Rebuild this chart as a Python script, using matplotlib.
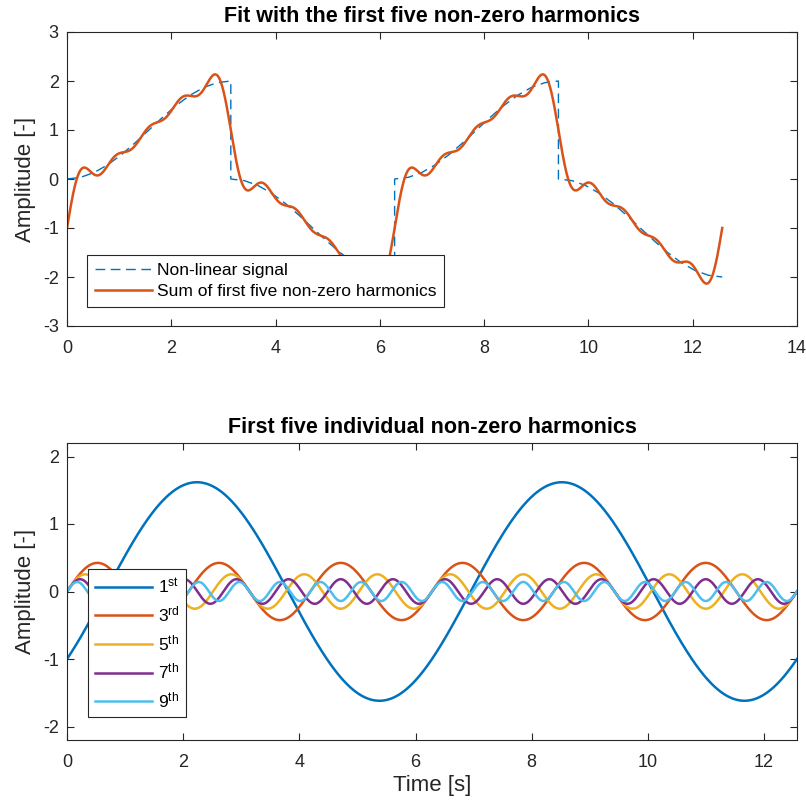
import numpy as np
import matplotlib
matplotlib.use("Agg")
import matplotlib.pyplot as plt

plt.rcParams['font.family'] = ['Liberation Sans', 'DejaVu Sans']
plt.rcParams['mathtext.fontset'] = 'custom'
plt.rcParams['mathtext.rm'] = 'Liberation Sans'
plt.rcParams['mathtext.it'] = 'Liberation Sans'
plt.rcParams['axes.unicode_minus'] = False

# harmonic content (cos / sin parts of each order)
orders = [1, 3, 5, 7, 9]
cos_amp = [-1.0, 0.0, 0.0, 0.0, 0.0]
sin_amp = [1.273, 0.424, 0.255, 0.182, 0.141]
harm_labels = [r'1$^{\rm st}$', r'3$^{\rm rd}$', r'5$^{\rm th}$',
               r'7$^{\rm th}$', r'9$^{\rm th}$']
harm_colors = ['#0072BD', '#D95319', '#EDB120', '#7E2F8E', '#4DBEEE']

# one rising half period of the non-linear signal
half_x = [0.0, 0.262, 0.524, 0.785, 1.047, 1.309, 1.571, 1.833, 2.094,
          2.356, 2.618, 2.880, 3.1416]
half_y = [0.0, 0.034, 0.134, 0.293, 0.5, 0.741, 1.0, 1.259, 1.5,
          1.707, 1.866, 1.966, 2.0]

t_end = 4 * np.pi
t = np.linspace(0, t_end, 2000)

# build the signal from the half period: up, down, up, down
hx = np.array(half_x)
hy = np.array(half_y)
sig_x = np.concatenate([hx, hx + np.pi, hx + 2 * np.pi, hx + 3 * np.pi])
sig_y = np.concatenate([hy, -hy, hy, -hy])

harmonics = []
for n, a, b in zip(orders, cos_amp, sin_amp):
    harmonics.append(a * np.cos(n * t) + b * np.sin(n * t))
total = np.sum(harmonics, axis=0)

fig = plt.figure(figsize=(8.06, 8.08), dpi=100)
W, H = 806, 808
ax1 = fig.add_axes([67 / W, 1 - 326 / H, 730 / W, 294 / H])
ax2 = fig.add_axes([67 / W, 1 - 740 / H, 730 / W, 297 / H])

edge = '#262626'
for ax in (ax1, ax2):
    ax.tick_params(direction='in', top=True, right=True, labelsize=13,
                   colors=edge, length=5, width=0.8)
    ax.tick_params(axis='x', pad=10)
    ax.tick_params(axis='y', pad=6)
    for s in ax.spines.values():
        s.set_color(edge)
        s.set_linewidth(0.8)

# top panel
ax1.plot(sig_x, sig_y, color='#0072BD', lw=1.0, dashes=(7, 4),
         label='Non-linear signal')
ax1.plot(t, total, color='#D95319', lw=1.8,
         label='Sum of first five non-zero harmonics')
ax1.set_xlim(0, 14)
ax1.set_ylim(-3, 3)
ax1.set_xticks(np.arange(0, 15, 2))
ax1.set_yticks(np.arange(-3, 4, 1))
ax1.set_ylabel('Amplitude [-]', fontsize=16, color=edge, labelpad=5)
ax1.set_title('Fit with the first five non-zero harmonics', fontsize=15.5,
              fontweight='bold', pad=7)
leg1 = ax1.legend(loc='lower left', bbox_to_anchor=(0.027, 0.065),
                  fontsize=12.5, frameon=True, fancybox=False, framealpha=1,
                  edgecolor=edge, handlelength=3.3, borderaxespad=0,
                  labelspacing=0.35, borderpad=0.45, handletextpad=0.3)
leg1.get_frame().set_linewidth(0.8)

# bottom panel
for h, lab, c in zip(harmonics, harm_labels, harm_colors):
    ax2.plot(t, h, color=c, lw=1.8, label=lab)
ax2.set_xlim(0, t_end)
ax2.set_ylim(-2.2, 2.2)
ax2.set_xticks(np.arange(0, 13, 2))
ax2.set_yticks(np.arange(-2, 3, 1))
ax2.set_ylabel('Amplitude [-]', fontsize=16, color=edge, labelpad=5)
ax2.set_xlabel('Time [s]', fontsize=16, color=edge, labelpad=3)
ax2.set_title('First five individual non-zero harmonics', fontsize=15.5,
              fontweight='bold', pad=7)
leg2 = ax2.legend(loc='lower left', bbox_to_anchor=(0.029, 0.077),
                  fontsize=12.5, frameon=True, fancybox=False, framealpha=1,
                  edgecolor=edge, handlelength=3.3, borderaxespad=0,
                  labelspacing=0.5, borderpad=0.4, handletextpad=0.3)
leg2.get_frame().set_linewidth(0.8)

fig.savefig('out.png', dpi=100)
